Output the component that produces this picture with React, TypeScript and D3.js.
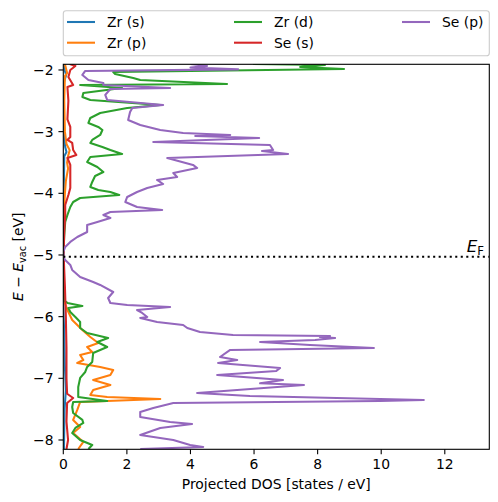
import React from 'react';
import * as d3 from 'd3';

// ---------- data: [energy (eV), projected DOS (states/eV)] ----------
const zrS: [number, number][] = [
  [-1.903, 0.02], [-2.0, 0.04], [-2.08, 0.09], [-2.2, 0.02], [-2.8, 0.02], [-3.1, 0.03],
  [-3.25, 0.06], [-3.33, 0.1], [-3.4, 0.03], [-3.8, 0.02], [-4.5, 0.0], [-5.8, 0.0],
  [-6.3, 0.03], [-6.8, 0.05], [-7.2, 0.08], [-7.35, 0.06], [-7.5, 0.04], [-8.146, 0.02],
];

const zrP: [number, number][] = [
  [-1.903, 0.05], [-2.05, 0.12], [-2.1, 0.05], [-2.5, 0.03], [-3.0, 0.05], [-3.2, 0.1],
  [-3.3, 0.2], [-3.4, 0.15], [-3.5, 0.12], [-3.6, 0.15], [-3.8, 0.08], [-4.0, 0.05],
  [-4.3, 0.02], [-5.5, 0.0], [-5.75, 0.03], [-5.892, 0.13], [-6.054, 0.28], [-6.216, 0.6],
  [-6.33, 0.85], [-6.427, 1.1], [-6.492, 0.75], [-6.573, 0.91], [-6.621, 0.53], [-6.703, 0.63],
  [-6.751, 0.44], [-6.816, 1.16], [-6.865, 1.57], [-6.946, 1.48], [-7.027, 0.94], [-7.108, 1.48],
  [-7.189, 0.94], [-7.27, 0.85], [-7.303, 1.38], [-7.335, 3.05], [-7.384, 0.53], [-7.513, 0.44],
  [-7.675, 0.31], [-7.789, 0.53], [-7.886, 0.31], [-8.032, 0.63], [-8.146, 0.47],
];

const zrD: [number, number][] = [
  [-1.903, 5.97], [-1.919, 8.23], [-1.951, 7.45], [-1.984, 8.83], [-2.032, 1.57], [-2.065, 1.63],
  [-2.13, 2.2], [-2.162, 2.42], [-2.227, 5.15], [-2.243, 0.53], [-2.292, 1.85], [-2.373, 0.63],
  [-2.438, 0.6], [-2.486, 0.85], [-2.568, 3.05], [-2.616, 2.01], [-2.697, 1.16], [-2.778, 0.85],
  [-2.859, 0.79], [-2.924, 1.1], [-2.973, 1.23], [-3.054, 1.16], [-3.135, 0.91], [-3.184, 0.85],
  [-3.249, 1.23], [-3.297, 1.48], [-3.362, 1.85], [-3.411, 0.85], [-3.492, 0.75], [-3.573, 1.07],
  [-3.654, 1.26], [-3.719, 1.0], [-3.816, 0.91], [-3.897, 0.85], [-3.946, 1.1], [-3.978, 1.48],
  [-4.027, 1.76], [-4.076, 0.53], [-4.141, 0.31], [-4.222, 0.22], [-4.351, 0.13], [-4.465, 0.06],
  [-4.676, 0.03], [-4.9, 0.01], [-5.5, 0.01], [-5.75, 0.05], [-5.778, 0.13], [-5.827, 0.6],
  [-5.86, 0.16], [-5.924, 0.22], [-6.005, 0.38], [-6.086, 0.53], [-6.184, 0.53], [-6.265, 0.75],
  [-6.346, 1.41], [-6.411, 1.07], [-6.492, 1.38], [-6.589, 0.94], [-6.735, 0.91], [-6.816, 0.75],
  [-6.897, 0.69], [-6.994, 0.53], [-7.14, 0.47], [-7.303, 0.47], [-7.367, 1.38], [-7.384, 0.31],
  [-7.465, 0.28], [-7.562, 0.31], [-7.675, 0.6], [-7.724, 0.63], [-7.805, 0.38], [-7.886, 0.28],
  [-8.0, 0.53], [-8.081, 0.91], [-8.146, 0.79],
];

const seS: [number, number][] = [
  [-1.903, 0.2], [-1.935, 0.38], [-2.0, 0.22], [-2.114, 0.16], [-2.243, 0.31], [-2.276, 0.13],
  [-2.5, 0.16], [-2.8, 0.13], [-2.924, 0.22], [-3.086, 0.22], [-3.135, 0.13], [-3.184, 0.28],
  [-3.297, 0.31], [-3.378, 0.41], [-3.427, 0.13], [-3.54, 0.22], [-3.913, 0.22], [-4.027, 0.16],
  [-4.189, 0.06], [-4.351, 0.06], [-4.627, 0.03], [-5.0, 0.01], [-5.5, 0.05], [-6.0, 0.08],
  [-6.5, 0.1], [-7.0, 0.1], [-7.25, 0.12], [-7.319, 0.31], [-7.4, 0.12], [-7.7, 0.1],
  [-8.0, 0.15], [-8.146, 0.1],
];

const seP: [number, number][] = [
  [-1.903, 4.0], [-1.935, 4.52], [-1.96, 4.0], [-1.99, 5.5], [-2.016, 0.69], [-2.081, 0.6],
  [-2.162, 0.79], [-2.211, 1.26], [-2.243, 1.26], [-2.292, 3.36], [-2.308, 1.48], [-2.405, 1.32],
  [-2.486, 1.38], [-2.568, 3.14], [-2.616, 2.17], [-2.681, 2.1], [-2.811, 2.04], [-2.892, 2.42],
  [-2.973, 3.05], [-3.022, 3.77], [-3.054, 5.25], [-3.07, 4.15], [-3.103, 6.16], [-3.168, 2.83],
  [-3.216, 6.5], [-3.297, 6.6], [-3.313, 6.25], [-3.362, 7.07], [-3.427, 3.27], [-3.54, 4.08],
  [-3.589, 4.21], [-3.67, 3.46], [-3.735, 3.58], [-3.784, 2.95], [-3.849, 3.14], [-3.913, 2.64],
  [-3.978, 2.32], [-4.059, 2.01], [-4.141, 1.95], [-4.222, 2.32], [-4.27, 3.11], [-4.303, 1.48],
  [-4.351, 1.26], [-4.4, 1.48], [-4.465, 1.07], [-4.513, 0.75], [-4.627, 0.75], [-4.708, 0.44],
  [-4.789, 0.22], [-4.87, 0.06], [-4.95, 0.0], [-5.05, 0.02], [-5.081, 0.06], [-5.162, 0.22],
  [-5.243, 0.28], [-5.357, 0.53], [-5.438, 0.94], [-5.486, 1.16], [-5.6, 1.57], [-5.697, 1.41],
  [-5.778, 1.48], [-5.811, 2.01], [-5.843, 3.36], [-5.892, 2.32], [-5.94, 2.48], [-6.005, 2.64],
  [-6.021, 2.42], [-6.086, 2.95], [-6.135, 3.77], [-6.184, 3.9], [-6.248, 4.3], [-6.297, 5.34],
  [-6.313, 8.39], [-6.33, 8.07], [-6.346, 8.55], [-6.378, 7.92], [-6.411, 6.19], [-6.46, 7.76],
  [-6.508, 9.77], [-6.54, 5.25], [-6.654, 4.93], [-6.703, 5.47], [-6.751, 4.87], [-6.832, 6.82],
  [-6.88, 6.7], [-6.946, 4.84], [-7.027, 6.91], [-7.08, 6.19], [-7.108, 7.57], [-7.238, 4.21],
  [-7.287, 5.87], [-7.351, 11.34], [-7.367, 9.96], [-7.4, 3.46], [-7.481, 2.83], [-7.546, 2.42],
  [-7.627, 2.42], [-7.708, 3.36], [-7.74, 4.05], [-7.805, 3.05], [-7.919, 2.42], [-8.0, 3.46],
  [-8.081, 3.99], [-8.113, 4.4], [-8.146, 2.42],
];

const seriesNames = ['Zr (s)', 'Zr (p)', 'Zr (d)', 'Se (s)', 'Se (p)'];
const seriesColors = ['#1f77b4', '#ff7f0e', '#2ca02c', '#d62728', '#9467bd'];
const seriesData = [zrS, zrP, zrD, seS, seP];

const xTicks = [0, 2, 4, 6, 8, 10, 12];
const yTicks = [-2, -3, -4, -5, -6, -7, -8];
const xDomain: [number, number] = [0, 13.4];
const yDomain: [number, number] = [-8.151, -1.908];
const fermiLevel = -5.03;

const W = 498;
const H = 502;
const L = 63.3, R = 489.3, T = 64.3, B = 449.3;
const FONT = 'DejaVu Sans, sans-serif';
const FS = 13.9;
const LW = 2.08;
const TICK = 4.86;

export default function App() {
  const x = d3.scaleLinear().domain(xDomain).range([L, R]);
  const y = d3.scaleLinear().domain(yDomain).range([B, T]);
  const line = d3
    .line<[number, number]>()
    .x((d) => x(d[1]))
    .y((d) => y(d[0]))
    .curve(d3.curveLinear);

  const fmt = (v: number) => (v < 0 ? '\u2212' + Math.abs(v) : String(v));

  // legend layout (3 columns, expanded across the axes width)
  const legendCols = [0, 0, 1, 1, 2];
  const legendRows = [0, 1, 0, 1, 0];
  const colX = [67, 234, 402];
  const rowY = [22, 42.7];

  return (
    <svg
      width={W}
      height={H}
      style={{ position: 'absolute', left: 0, top: 0, background: '#fff' }}
      fontFamily={FONT}
    >
      <defs>
        <clipPath id="plotclip">
          <rect x={L} y={T} width={R - L} height={B - T} />
        </clipPath>
      </defs>
      <rect x={0} y={0} width={W} height={H} fill="#fff" />

      <g clipPath="url(#plotclip)">
        {seriesData.map((s, i) => (
          <path
            key={i}
            d={line(s) || ''}
            fill="none"
            stroke={seriesColors[i]}
            strokeWidth={LW}
            strokeLinejoin="round"
            strokeLinecap="butt"
          />
        ))}
        <line
          x1={L}
          x2={R}
          y1={y(fermiLevel)}
          y2={y(fermiLevel)}
          stroke="#000"
          strokeWidth={LW}
          strokeDasharray="2.08 3.44"
        />
      </g>

      {/* E_F label */}
      <text x={484} y={252} fontSize={16.7} textAnchor="end" fill="#000">
        <tspan fontStyle="italic">E</tspan>
        <tspan fontSize={11.7} dy={3.3}>F</tspan>
      </text>

      {/* frame */}
      <rect x={L} y={T} width={R - L} height={B - T} fill="none" stroke="#000" strokeWidth={1.1} />

      {/* x ticks */}
      {xTicks.map((t) => (
        <g key={'x' + t}>
          <line x1={x(t)} x2={x(t)} y1={B} y2={B + TICK} stroke="#000" strokeWidth={1.1} />
          <text x={x(t)} y={B + 19.5} fontSize={FS} textAnchor="middle" fill="#000">
            {fmt(t)}
          </text>
        </g>
      ))}
      {/* y ticks */}
      {yTicks.map((t) => (
        <g key={'y' + t}>
          <line x1={L - TICK} x2={L} y1={y(t)} y2={y(t)} stroke="#000" strokeWidth={1.1} />
          <text x={L - 2 * TICK} y={y(t) + 5} fontSize={FS} textAnchor="end" fill="#000">
            {fmt(t)}
          </text>
        </g>
      ))}

      {/* axis labels */}
      <text x={(L + R) / 2} y={489} fontSize={FS} textAnchor="middle" fill="#000">
        Projected DOS [states / eV]
      </text>
      <text
        transform={`translate(22.7,${(T + B) / 2}) rotate(-90)`}
        fontSize={FS}
        textAnchor="middle"
        fill="#000"
      >
        <tspan fontStyle="italic">E</tspan>
        <tspan> {'\u2212'} </tspan>
        <tspan fontStyle="italic">E</tspan>
        <tspan fontSize={9.7} dy={2.8}>vac</tspan>
        <tspan dy={-2.8}> [eV]</tspan>
      </text>

      {/* legend */}
      <rect
        x={L}
        y={10.7}
        width={R - L}
        height={45}
        rx={2.8}
        fill="#fff"
        fillOpacity={0.8}
        stroke="#cccccc"
        strokeWidth={1.1}
      />
      {seriesNames.map((n, i) => {
        const cx = colX[legendCols[i]];
        const cy = rowY[legendRows[i]];
        return (
          <g key={n}>
            <line x1={cx} x2={cx + 28} y1={cy} y2={cy} stroke={seriesColors[i]} strokeWidth={LW} />
            <text x={cx + 40} y={cy + 5} fontSize={FS} fill="#000">
              {n}
            </text>
          </g>
        );
      })}
    </svg>
  );
}
